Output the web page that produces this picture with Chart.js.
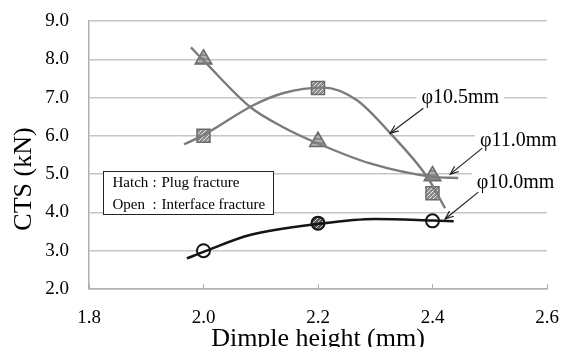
<!DOCTYPE html>
<html><head><meta charset="utf-8">
<script src="https://cdn.jsdelivr.net/npm/chart.js@4/dist/chart.umd.min.js"></script>
<style>html,body{margin:0;padding:0;background:#fff}#wrap{width:566px;height:347px;position:relative}</style>
</head><body><div id="wrap"><canvas id="c" width="566" height="347"></canvas></div>
<script>
// ---- data ----
const dimpleHeights = [2.0, 2.2, 2.4];
const cts10_0 = [3.0, 3.72, 3.78];
const cts10_5 = [6.0, 7.25, 4.5];
const cts11_0 = [8.0, 5.85, 4.95];
const fracture10_0 = ['open', 'plug', 'open'];
const fracture10_5 = ['plug', 'plug', 'plug'];
const fracture11_0 = ['plug', 'plug', 'plug'];

// trend curves
const trend10_0_x = [1.971, 2.0, 2.081, 2.2, 2.3, 2.4, 2.437];
const trend10_0_y = [2.80, 2.97, 3.41, 3.70, 3.83, 3.79, 3.77];
const trend10_5_x = [1.966, 2.0, 2.087, 2.14, 2.21, 2.268, 2.326, 2.391, 2.422];
const trend10_5_y = [5.78, 6.02, 6.80, 7.12, 7.26, 6.93, 6.07, 4.92, 4.11];
const trend11_0_x = [1.978, 2.0, 2.081, 2.14, 2.2, 2.291, 2.4, 2.445];
const trend11_0_y = [8.31, 7.97, 6.76, 6.22, 5.80, 5.28, 4.93, 4.90];

const xTickValues = [1.8, 2.0, 2.2, 2.4, 2.6];
const yTickValues = [2, 3, 4, 5, 6, 7, 8, 9];
const xTitle = 'Dimple height (mm)';
const yTitle = 'CTS (kN)';

const seriesLabels = ['φ10.0mm', 'φ10.5mm', 'φ11.0mm'];
const legendLines = [['Hatch', 'Plug fracture'], ['Open', 'Interface fracture']];

// ---- annotation placement (data coordinates) ----
const labelPlacement = [
  { text: seriesLabels[1], x: 2.4485, y: 7.01, from: [2.384, 6.72], to: [2.326, 6.07] },
  { text: seriesLabels[2], x: 2.550, y: 5.89, from: [2.487, 5.68], to: [2.431, 5.00] },
  { text: seriesLabels[0], x: 2.545, y: 4.79, from: [2.480, 4.53], to: [2.422, 3.83] }
];
const legendBox = { x0: 1.8245, x1: 2.1216, y0: 5.08, y1: 3.96 };
const yTitlePos = { x: 24, y: 179 };

const SERIF = '"Liberation Serif", "Times New Roman", serif';

// ---- fill patterns ----
function makePattern(bg, line, kind, lw) {
  const c = document.createElement('canvas');
  c.width = 4; c.height = 4;
  const g = c.getContext('2d');
  g.fillStyle = bg; g.fillRect(0, 0, 4, 4);
  g.strokeStyle = line; g.lineWidth = lw;
  g.beginPath();
  if (kind === 'diag') {
    g.moveTo(0, 4); g.lineTo(4, 0);
    g.moveTo(-1, 1); g.lineTo(1, -1);
    g.moveTo(3, 5); g.lineTo(5, 3);
  } else {
    g.moveTo(0, 1); g.lineTo(4, 1);
  }
  g.stroke();
  return g.createPattern(c, 'repeat');
}
const ctx = document.getElementById('c').getContext('2d');
const squareHatch = makePattern('#8c8c8c', '#e6e6e6', 'diag', 1);
const triStripe = makePattern('#8a8a8a', '#c9c9c9', 'horiz', 1.2);
const circleHatch = makePattern('#555555', '#dddddd', 'diag', 0.9);

function pts(xs, ys) { return xs.map((x, i) => ({ x: x, y: ys[i] })); }

const GRAY = '#7b7b7b';
const BLACK = '#151515';

const trendStyle = { pointRadius: 0, cubicInterpolationMode: 'monotone', order: 0, showLine: true };
const data = {
  datasets: [
    Object.assign({ label: 'trend10.0', data: pts(trend10_0_x, trend10_0_y), borderColor: BLACK, borderWidth: 2.6 }, trendStyle),
    Object.assign({ label: 'trend10.5', data: pts(trend10_5_x, trend10_5_y), borderColor: GRAY, borderWidth: 2.4 }, trendStyle),
    Object.assign({ label: 'trend11.0', data: pts(trend11_0_x, trend11_0_y), borderColor: GRAY, borderWidth: 2.4 }, trendStyle),
    { label: seriesLabels[0], data: pts(dimpleHeights, cts10_0), showLine: false, pointStyle: 'circle', pointRadius: 6.5,
      pointBackgroundColor: fracture10_0.map(f => f === 'plug' ? circleHatch : '#ffffff'), pointBorderColor: BLACK, pointBorderWidth: 2, order: 1 },
    { label: seriesLabels[1], data: pts(dimpleHeights, cts10_5), showLine: false, pointStyle: 'rect', pointRadius: 9.2,
      pointBackgroundColor: fracture10_5.map(f => f === 'plug' ? squareHatch : '#ffffff'), pointBorderColor: '#6a6a6a', pointBorderWidth: 1.5, order: 1 },
    { label: seriesLabels[2], data: pts(dimpleHeights, cts11_0), showLine: false, pointStyle: 'triangle', pointRadius: 9.6,
      pointBackgroundColor: fracture11_0.map(f => f === 'plug' ? triStripe : '#ffffff'), pointBorderColor: '#6a6a6a', pointBorderWidth: 1.5, order: 1 }
  ]
};

const overlay = {
  id: 'overlay',
  afterDraw(chart) {
    const c = chart.ctx;
    c.save();
    c.translate(yTitlePos.x, yTitlePos.y);
    c.rotate(-Math.PI / 2);
    c.font = '26px ' + SERIF; c.fillStyle = '#000'; c.textAlign = 'center'; c.textBaseline = 'middle';
    c.fillText(yTitle, 0, 0);
    c.restore();
  },
  afterDatasetsDraw(chart) {
    const c = chart.ctx, xs = chart.scales.x, ys = chart.scales.y, area = chart.chartArea;
    c.save();
    // inward x tick marks
    c.strokeStyle = '#b0b0b0'; c.lineWidth = 1;
    xTickValues.forEach(v => {
      const px = Math.round(xs.getPixelForValue(v)) + 0.5;
      c.beginPath(); c.moveTo(px, area.bottom - 5); c.lineTo(px, area.bottom); c.stroke();
    });
    // legend box
    const bx0 = Math.round(xs.getPixelForValue(legendBox.x0)) + 0.5;
    const bx1 = Math.round(xs.getPixelForValue(legendBox.x1)) + 0.5;
    const by0 = Math.round(ys.getPixelForValue(legendBox.y0)) + 0.5;
    const by1 = Math.round(ys.getPixelForValue(legendBox.y1)) + 0.5;
    c.fillStyle = '#fff'; c.fillRect(bx0, by0, bx1 - bx0, by1 - by0);
    c.strokeStyle = '#222'; c.lineWidth = 1; c.strokeRect(bx0, by0, bx1 - bx0, by1 - by0);
    c.font = '15px ' + SERIF; c.fillStyle = '#000'; c.textBaseline = 'middle'; c.textAlign = 'left';
    const lh = (by1 - by0) / 2;
    legendLines.forEach((ln, i) => {
      const ty = by0 + lh * (i + 0.5) + 1;
      c.fillText(ln[0], bx0 + 9, ty);
      c.fillText(':', bx0 + 49, ty);
      c.fillText(ln[1], bx0 + 58, ty);
    });
    // series labels with arrows
    c.font = '20px ' + SERIF;
    labelPlacement.forEach(a => {
      const tx = xs.getPixelForValue(a.x), ty = ys.getPixelForValue(a.y);
      const w = c.measureText(a.text).width;
      c.fillStyle = '#fff'; c.fillRect(tx - w / 2 - 5, ty - 11, w + 10, 22);
      c.fillStyle = '#000'; c.textAlign = 'center'; c.textBaseline = 'middle';
      c.fillText(a.text, tx, ty + 1);
      const x1 = xs.getPixelForValue(a.from[0]), y1 = ys.getPixelForValue(a.from[1]);
      const x2 = xs.getPixelForValue(a.to[0]), y2 = ys.getPixelForValue(a.to[1]);
      c.strokeStyle = '#222'; c.lineWidth = 1.2;
      c.beginPath(); c.moveTo(x1, y1); c.lineTo(x2, y2); c.stroke();
      const ang = Math.atan2(y2 - y1, x2 - x1), hl = 9, ha = 0.38;
      c.beginPath();
      c.moveTo(x2 - hl * Math.cos(ang - ha), y2 - hl * Math.sin(ang - ha));
      c.lineTo(x2, y2);
      c.lineTo(x2 - hl * Math.cos(ang + ha), y2 - hl * Math.sin(ang + ha));
      c.stroke();
    });
    c.restore();
  }
};

new Chart(ctx, {
  type: 'scatter',
  data: data,
  plugins: [overlay],
  options: {
    responsive: false,
    animation: false,
    layout: { padding: { left: 0, right: 19, top: 21, bottom: 0 } },
    plugins: { legend: { display: false }, tooltip: { enabled: false } },
    scales: {
      x: {
        type: 'linear', min: 1.8, max: 2.6,
        afterBuildTicks: s => { s.ticks = xTickValues.map(v => ({ value: v })); },
        afterFit: s => { s.height = 58; s.paddingLeft = 0; s.paddingRight = 0; },
        ticks: { callback: v => Number(v).toFixed(1), font: { family: SERIF, size: 19 }, color: '#000', padding: 18, maxRotation: 0, autoSkip: false },
        grid: { display: false, drawTicks: false },
        border: { display: true, color: '#b0b0b0', width: 1.5 },
        title: { display: true, text: xTitle, font: { family: SERIF, size: 26, lineHeight: 0.62 }, color: '#000', padding: { top: 0, bottom: 0 } }
      },
      y: {
        type: 'linear', min: 2, max: 9,
        afterBuildTicks: s => { s.ticks = yTickValues.map(v => ({ value: v })); },
        afterFit: s => { s.width = 89; s.paddingTop = 0; s.paddingBottom = 0; },
        ticks: { callback: v => Number(v).toFixed(1), font: { family: SERIF, size: 19 }, color: '#000', padding: 20 },
        grid: { color: '#c6c6c6', lineWidth: 1.5, drawTicks: false },
        border: { display: true, color: '#b0b0b0', width: 1.5 },
        title: { display: false }
      }
    }
  }
});
</script>
</body></html>
